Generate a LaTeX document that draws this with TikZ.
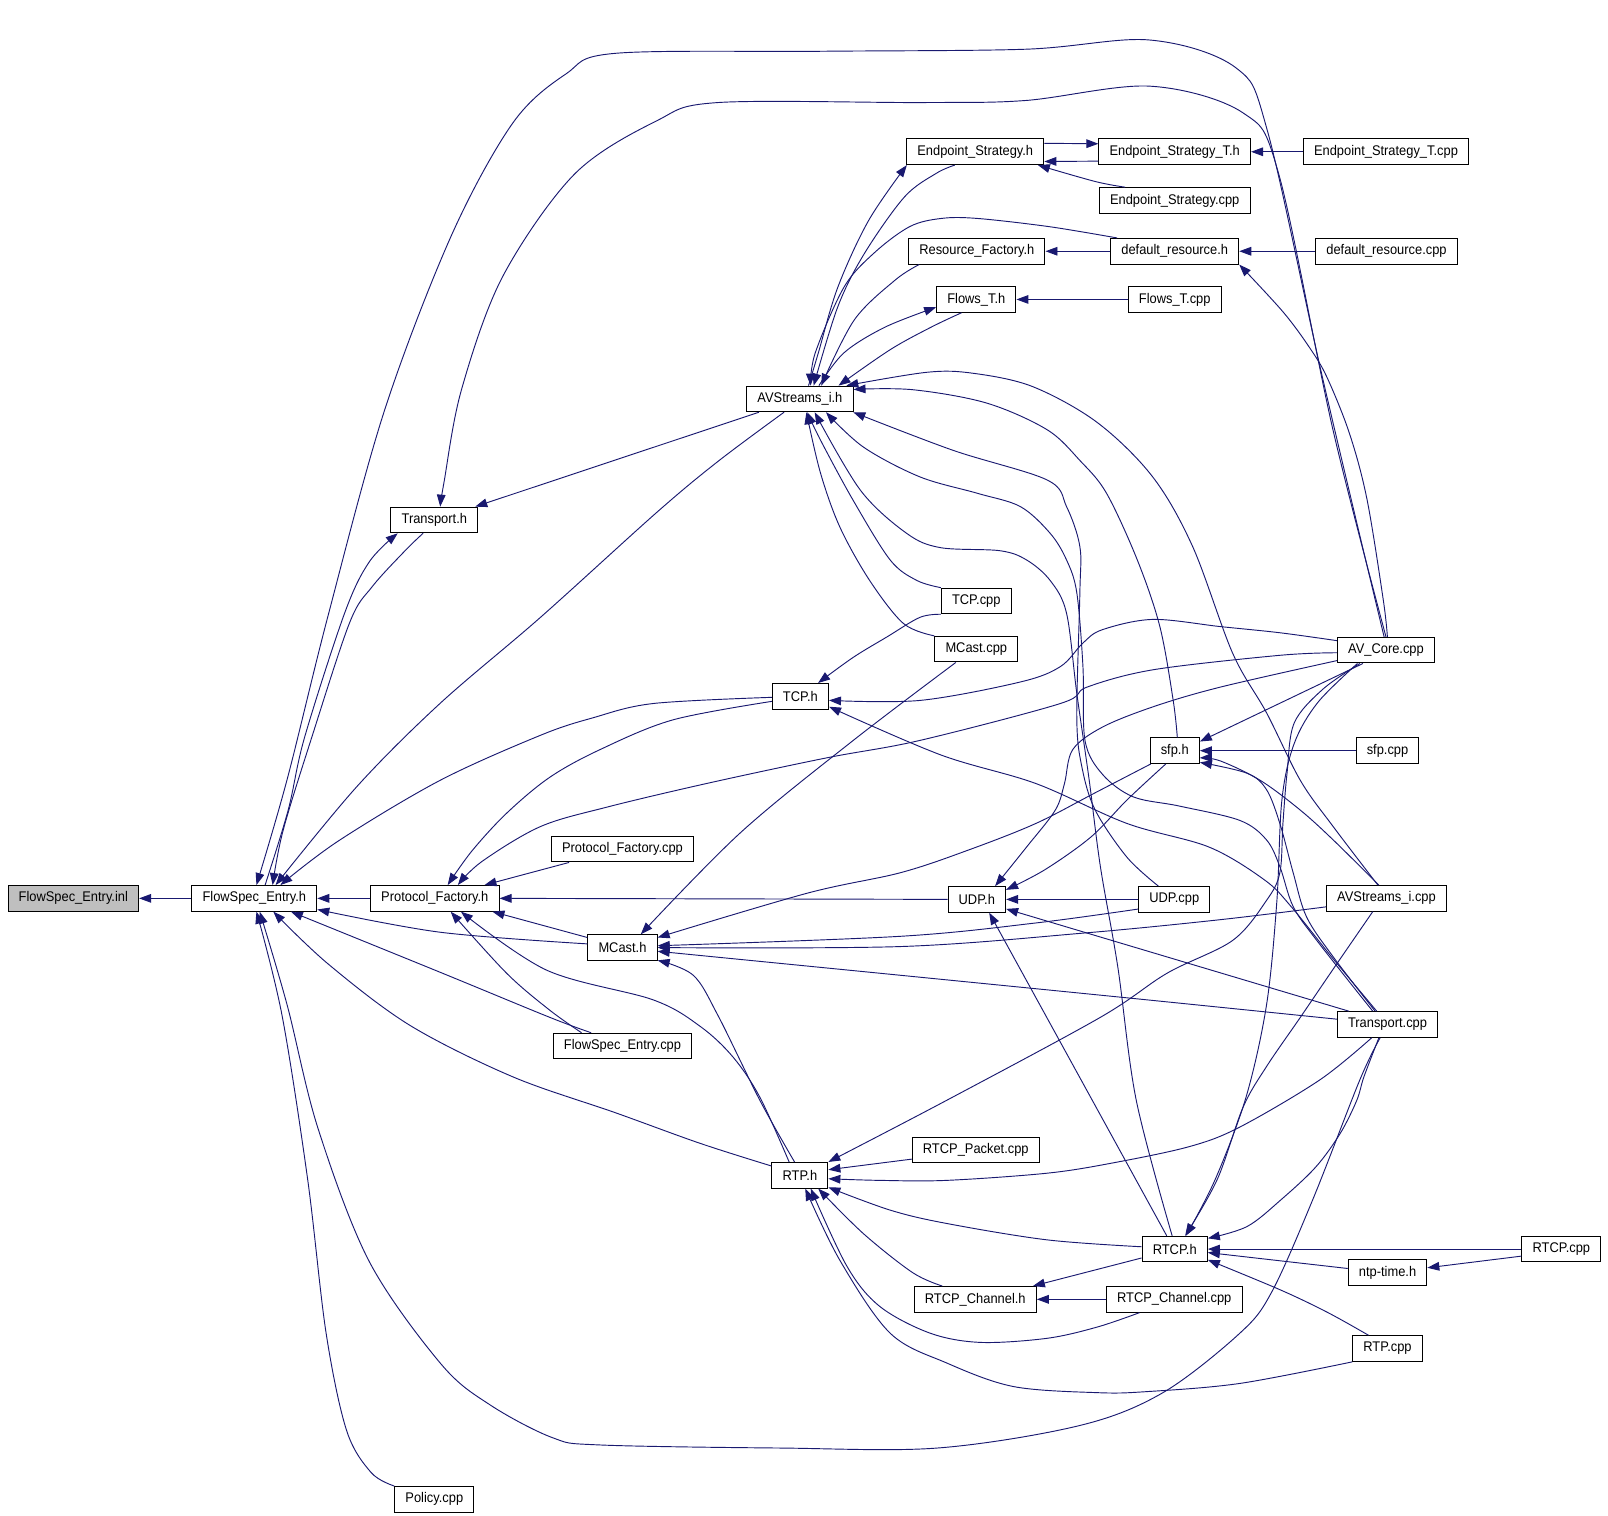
\documentclass[tikz,border=0pt]{standalone}
\usepackage{fontspec}
\setmainfont{Liberation Sans}[FakeStretch=0.92]
\usetikzlibrary{arrows.meta}
\definecolor{edgeblue}{HTML}{191970}
\definecolor{rootgray}{HTML}{BFBFBF}

\begin{document}
\begin{tikzpicture}[x=0.7691pt,y=-0.7691pt,
  file/.style={draw=black,line width=0.75pt,fill=white,inner xsep=8pt,inner ysep=0pt,minimum height=19.2pt,font=\fontsize{10.5}{12}\selectfont},
  root/.style={file,fill=rootgray},
  incl/.style={draw=edgeblue,line width=0.7pt,-{Triangle[length=9pt,width=6.5pt]}},
  curvy/.style={incl,smooth,tension=0.55}]

		\useasboundingbox (0,0) rectangle (1568,1478);

		\node[root] (inl) at (71.5,876) {FlowSpec\_Entry.inl};
		\node[file] (FEh) at (248,876) {FlowSpec\_Entry.h};
		\node[file] (PFh) at (424,876) {Protocol\_Factory.h};
		\node[file] (Transh) at (423.5,507) {Transport.h};
		\node[file] (AVSh) at (780,389) {AVStreams\_i.h};
		\node[file] (ESh) at (951,148) {Endpoint\_Strategy.h};
		\node[file] (ESTh) at (1145.5,148) {Endpoint\_Strategy\_T.h};
		\node[file] (ESTcpp) at (1351.5,148) {Endpoint\_Strategy\_T.cpp};
		\node[file] (EScpp) at (1145.5,195.5) {Endpoint\_Strategy.cpp};
		\node[file] (RFh) at (952.5,245) {Resource\_Factory.h};
		\node[file] (DRh) at (1145.5,245) {default\_resource.h};
		\node[file] (DRcpp) at (1352,245) {default\_resource.cpp};
		\node[file] (FTh) at (952,292) {Flows\_T.h};
		\node[file] (FTcpp) at (1145.5,292) {Flows\_T.cpp};
		\node[file] (TCPcpp) at (952,586) {TCP.cpp};
		\node[file] (MCcpp) at (952,633) {MCast.cpp};
		\node[file] (TCPh) at (780.5,679) {TCP.h};
		\node[file] (AVcore) at (1351.5,634) {AV\_Core.cpp};
		\node[file] (sfph) at (1145.5,732) {sfp.h};
		\node[file] (sfpcpp) at (1353,732) {sfp.cpp};
		\node[file] (PFcpp) at (607,828) {Protocol\_Factory.cpp};
		\node[file] (UDPh) at (952.5,877) {UDP.h};
		\node[file] (UDPcpp) at (1145,877) {UDP.cpp};
		\node[file] (AVScpp) at (1352,876) {AVStreams\_i.cpp};
		\node[file] (MCh) at (607,924) {MCast.h};
		\node[file] (Transcpp) at (1353,999) {Transport.cpp};
		\node[file] (FEcpp) at (607,1020) {FlowSpec\_Entry.cpp};
		\node[file] (RTPh) at (780,1146) {RTP.h};
		\node[file] (RTCPpkt) at (951.5,1121.5) {RTCP\_Packet.cpp};
		\node[file] (RTCPh) at (1145.5,1218) {RTCP.h};
		\node[file] (RTCPcpp) at (1522.5,1218) {RTCP.cpp};
		\node[file] (ntp) at (1353,1241) {ntp-time.h};
		\node[file] (RTCPChh) at (951,1267) {RTCP\_Channel.h};
		\node[file] (RTCPChcpp) at (1145,1267) {RTCP\_Channel.cpp};
		\node[file] (RTPcpp) at (1353,1315) {RTP.cpp};
		\node[file] (Policy) at (423.5,1462) {Policy.cpp};

		\draw[incl] (FEh.west) -- (inl.east);
		\draw[incl] (PFh.west) -- (FEh.east);
		\draw[incl] (UDPh.west) -- (PFh.east);
		\draw[incl] (UDPcpp.west) -- (UDPh.east);
		\draw[incl] (sfpcpp.west) -- (sfph.east);
		\draw[incl] (ESTcpp.west) -- (ESTh.east);
		\draw[incl] (DRh.west) -- (RFh.east);
		\draw[incl] (DRcpp.west) -- (DRh.east);
		\draw[incl] (FTcpp.west) -- (FTh.east);
		\draw[incl] (RTCPChcpp.west) -- (RTCPChh.east);
		\draw[incl] (RTCPcpp.west) -- (RTCPh.east);
		\draw[incl] (ESh.7) -- (ESTh.174);
		\draw[incl] (ESTh.187) -- (ESh.352);
		\draw[incl] (AVSh.198) -- (Transh.18);
		\draw[incl] (MCh.164) -- (PFh.347);
		\draw[incl] (PFcpp.194) -- (PFh.15);
		\draw[incl] (RTCPpkt.188) -- (RTPh.11);
		\draw[incl] (RTCPh.195) -- (RTCPChh.13);
		\draw[incl] (RTCPcpp.190) -- (ntp.7);
		\draw[incl] (ntp.174) -- (RTCPh.354);
		\draw[incl] (Transcpp.161) -- (UDPh.342);
		\draw[incl] (RTCPh.121) -- (UDPh.313);
		\draw[incl] (AVcore.210) -- (sfph.20);

		\draw[curvy] plot coordinates {(AVcore.98) (1290,370) (1236,128) (1205,66) (1121,39) (1000,48) (800,50) (600,52) (552,72) (500,120) (440,230) (375,400) (320,600) (280,760) (FEh.81)};
		\draw[curvy] plot coordinates {(AVcore.90) (1300,420) (1247,170) (1212,110) (1121,84) (1000,98) (900,100) (700,100) (640,118) (560,170) (490,270) (450,380) (433,470) (Transh.66)};
		\draw[curvy] plot coordinates {(AVcore.84) (1349,586) (1333,487) (1316,423) (1294,368) (1277,339) (1251,304) (DRh.south east)};
		\draw[curvy] plot coordinates {(FEh.51) (281,790) (297,719) (336,598) (360,548) (Transh.200)};
		\draw[curvy] plot coordinates {(Transh.230) (395,537) (363,572) (341,607) (304,719) (276,810) (FEh.36)};
		\draw[curvy] plot coordinates {(AVSh.220) (700,450) (640,500) (527,602) (429,686) (348,767) (FEh.32)};
		\draw[curvy] plot coordinates {(TCPh.182) (637,686) (578,700) (527,717) (429,761) (330,820) (FEh.27)};
		\draw[curvy] plot coordinates {(TCPh.190) (656,702) (585,731) (536,758) (494,793) (460,830) (PFh.46)};
		\draw[curvy] plot coordinates {(AVcore.183) (1248,639) (1125,653) (1060,670) (1034,686) (897,722) (806,739) (689,764) (592,787) (527,806) (470,840) (PFh.30)};
		\draw[curvy] plot coordinates {(AVcore.169) (1248,617) (1190,611) (1124,604) (1075,614) (1056,627) (1034,650) (995,665) (897,683) (TCPh.352)};
		\draw[curvy] plot coordinates {(AVcore.192) (1190,670) (1125,689) (1075,709) (1046,731) (1038,764) (1029,790) (1001,826) (UDPh.36)};
		\draw[curvy] plot coordinates {(AVcore.207) (1290,672) (1262,705) (1255,754) (1251,803) (1248,851) (1235,878) (1202,917) (1138,949) (1073,992) (923,1073) (RTPh.25)};
		\draw[curvy] plot coordinates {(AVcore.205) (1285,685) (1262,725) (1250,780) (1245,880) (1235,980) (1215,1070) (1185,1150) (RTCPh.50)};
		\draw[curvy] plot coordinates {(AVScpp.224) (1300,945) (1268,992) (1235,1040) (1212,1080) (1187,1150) (RTCPh.52)};
		\draw[curvy] plot coordinates {(TCPcpp.south west) (897,602) (865,621) (832,641) (TCPh.37)};
		\draw[curvy] plot coordinates {(Transcpp.129) (1300,935) (1259,884) (1233,858) (1179,826) (1099,803) (1010,764) (917,736) (TCPh.340)};
		\draw[curvy] plot coordinates {(MCcpp.213) (832,722) (722,812) (MCh.36)};
		\draw[curvy] plot coordinates {(TCPcpp.north west) (894,566) (868,546) (832,488) (800,429) (AVSh.299)};
		\draw[curvy] plot coordinates {(MCcpp.north west) (881,608) (848,566) (819,514) (800,461) (AVSh.296)};
		\draw[curvy] plot coordinates {(Transcpp.138) (1284,917) (1261,884) (1248,845) (1235,819) (1209,800) (1150,786) (1105,777) (1075,755) (1058,722) (1056,650) (1050,578) (1040,546) (1024,520) (995,494) (953,481) (897,465) (842,436) (AVSh.333)};
		\draw[curvy] plot coordinates {(UDPcpp.140) (1099,836) (1068,790) (1055,748) (1050,700) (1053,578) (1053,533) (1040,494) (1021,468) (929,439) (AVSh.346)};
		\draw[curvy] plot coordinates {(RTCPh.101) (1108,1073) (1090,943) (1073,845) (1062,760) (1050,676) (1040,598) (1024,566) (1001,546) (975,537) (917,534) (884,520) (839,478) (AVSh.318)};
		\draw[curvy] plot coordinates {(sfph.79) (1144,683) (1131,611) (1109,546) (1079,481) (1053,449) (1021,419) (962,393) (890,380) (AVSh.10)};
		\draw[curvy] plot coordinates {(AVScpp.123) (1300,806) (1268,761) (1235,695) (1202,637) (1163,533) (1124,465) (1070,412) (1007,377) (949,364) (904,363) (AVSh.16)};
		\draw[curvy] plot coordinates {(AVScpp.120) (1300,819) (1268,790) (1229,761) (1190,742) (sfph.344)};
		\draw[curvy] plot coordinates {(Transcpp.133) (1300,933) (1274,894) (1261,851) (1248,803) (1235,770) (1216,754) (sfph.335)};
		\draw[curvy] plot coordinates {(sfph.209) (1068,773) (1010,803) (944,829) (878,851) (787,871) (MCh.16)};
		\draw[curvy] plot coordinates {(sfph.236) (1099,780) (1064,816) (1019,848) (UDPh.18)};
		\draw[curvy] plot coordinates {(UDPcpp.195) (1010,900) (878,913) (MCh.3)};
		\draw[curvy] plot coordinates {(AVScpp.188) (1188,897) (1055,910) (878,923) (MCh.0)};
		\draw[curvy] plot coordinates {(Transcpp.174) (1099,973) (878,951) (MCh.354)};
		\draw[curvy] plot coordinates {(RTPh.112) (741,1073) (700,990) (676,951) (MCh.340)};
		\draw[curvy] plot coordinates {(RTPh.129) (741,1070) (715,1031) (683,1001) (637,975) (533,946) (PFh.333)};
		\draw[curvy] plot coordinates {(MCh.174) (429,909) (FEh.350)};
		\draw[curvy] plot coordinates {(FEcpp.162) (536,985) (494,949) (PFh.320)};
		\draw[curvy] plot coordinates {(FEcpp.157) (536,992) (429,948) (FEh.340)};
		\draw[curvy] plot coordinates {(RTPh.162) (683,1115) (600,1085) (500,1050) (400,1000) (320,940) (FEh.325)};
		\draw[curvy] plot coordinates {(Transcpp.241) (1326,1053) (1280,1170) (1240,1260) (1209,1300) (1134,1358) (1053,1390) (914,1412) (761,1412) (585,1409) (539,1402) (478,1370) (430,1330) (360,1230) (310,1100) (280,980) (FEh.292)};
		\draw[curvy] plot coordinates {(Policy.north west) (362,1436) (338,1395) (318,1300) (300,1150) (275,990) (FEh.279)};
		\draw[curvy] plot coordinates {(Transcpp.220) (1287,1053) (1209,1099) (1160,1118) (1085,1134) (1021,1144) (923,1151) (858,1151) (RTPh.353)};
		\draw[curvy] plot coordinates {(Transcpp.237) (1330,1050) (1323,1073) (1307,1105) (1283,1138) (1249,1170) (1216,1196) (RTCPh.18)};
		\draw[curvy] plot coordinates {(RTCPh.176) (1021,1209) (923,1193) (868,1180) (RTPh.337)};
		\draw[curvy] plot coordinates {(RTCPChh.158) (890,1241) (842,1203) (RTPh.324)};
		\draw[curvy] plot coordinates {(RTCPChcpp.201) (1070,1294) (1021,1305) (956,1309) (907,1300) (858,1274) (826,1235) (RTPh.309)};
		\draw[curvy] plot coordinates {(RTPcpp.south west) (1209,1349) (1118,1357) (1070,1358) (988,1352) (923,1329) (868,1300) (819,1229) (RTPh.292)};
		\draw[curvy] plot coordinates {(RTPcpp.145) (1295,1280) (1249,1258) (RTCPh.342)};
		\draw[curvy] plot coordinates {(AVSh.57) (798,344) (817,280) (847,215) (ESh.191)};
		\draw[curvy] plot coordinates {(ESh.213) (913,169) (882,192) (843,247) (817,299) (AVSh.44)};
		\draw[curvy] plot coordinates {(EScpp.165) (1068,177) (ESh.348)};
		\draw[curvy] plot coordinates {(DRh.167) (1023,221) (953,213) (918,213) (887,221) (852,247) (823,280) (795,344) (AVSh.51)};
		\draw[curvy] plot coordinates {(RFh.193) (873,273) (833,312) (AVSh.32)};
		\draw[curvy] plot coordinates {(AVSh.35) (823,344) (863,319) (FTh.191)};
		\draw[curvy] plot coordinates {(FTh.222) (908,319) (868,341) (AVSh.19)};
\end{tikzpicture}
\end{document}
